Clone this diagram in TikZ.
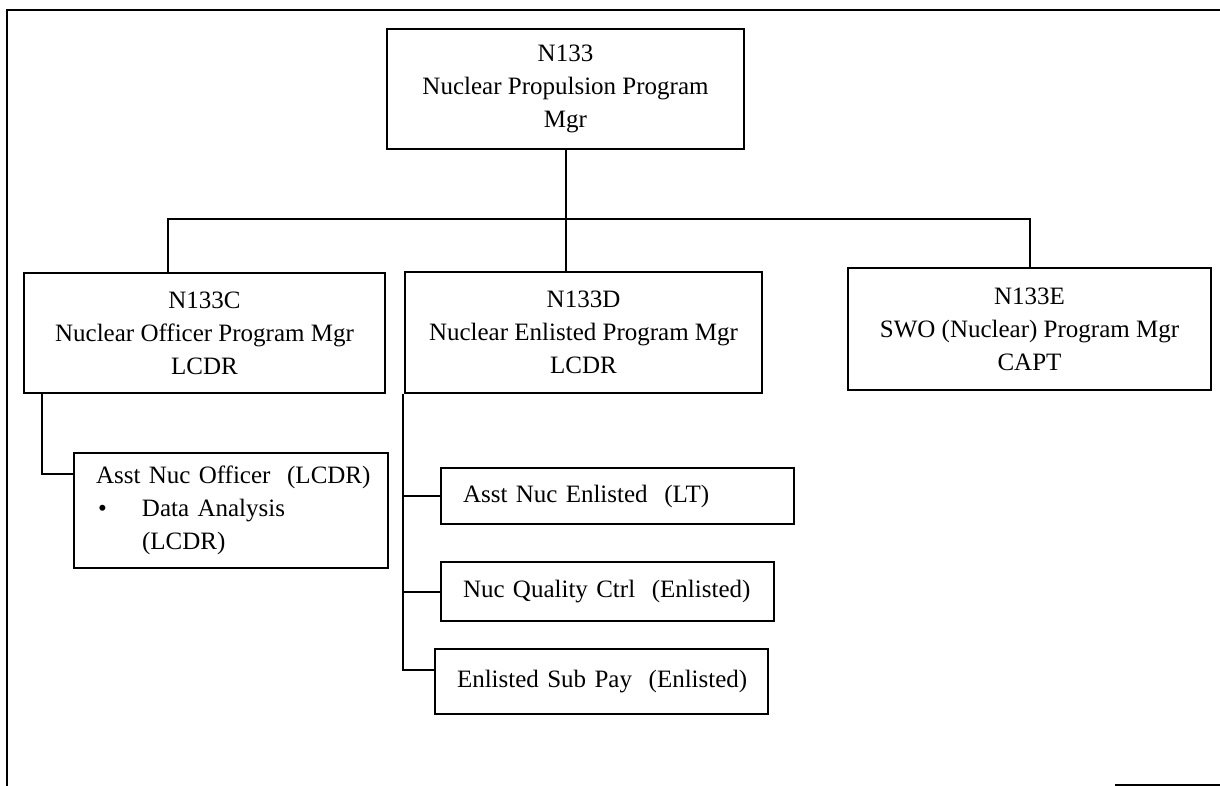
\documentclass[tikz,border=0pt]{standalone}
\usepackage{fontspec}
\setmainfont{Liberation Serif}
\usepackage{tikz}

\begin{document}
\begin{tikzpicture}[x=0.5pt,y=-0.5pt,
    every node/.style={font=\fontsize{12.5}{16.5}\selectfont},
    orgbox/.style={draw, line width=1pt, inner sep=0pt, align=center},
    subbox/.style={draw, line width=1pt, inner sep=0pt, align=left,
      execute at begin node={\leftskip=11pt}},
    link/.style={line width=1pt}]
  \useasboundingbox (0,0) rectangle (1220,786);
  \draw[line width=1pt] (1220,10) -- (7,10) -- (7,786);
  \draw[line width=1pt] (1115,785) -- (1220,785);

  \node[orgbox, minimum width=178.5pt, minimum height=60pt] (n133) at (565.5,89) {N133\\Nuclear Propulsion Program\\Mgr};
  \node[orgbox, minimum width=180.5pt, minimum height=60pt] (n133c) at (204.5,333) {N133C\\Nuclear Officer Program Mgr\\LCDR};
  \node[orgbox, minimum width=178.5pt, minimum height=60.5pt] (n133d) at (583.5,332.5) {N133D\\Nuclear Enlisted Program Mgr\\LCDR};
  \node[orgbox, minimum width=181.5pt, minimum height=61pt] (n133e) at (1029.5,329) {N133E\\SWO (Nuclear) Program Mgr\\CAPT};

  \node[subbox, text width=157pt, minimum height=57.5pt] (asstoff) at (231,510.5) {Asst Nuc Officer\ \ (LCDR)\\\makebox[23pt][l]{\hspace{1pt}\textbullet}Data Analysis\\\hspace*{23pt}(LCDR)};
  \node[subbox, text width=176.5pt, minimum height=28pt] (asstenl) at (617.5,496) {Asst Nuc Enlisted\ \ (LT)};
  \node[subbox, text width=166.5pt, minimum height=29.5pt] (qualctrl) at (607.5,591.5) {Nuc Quality Ctrl\ \ (Enlisted)};
  \node[subbox, text width=166.5pt, minimum height=32.5pt] (subpay) at (601.5,681.5) {Enlisted Sub Pay\ \ (Enlisted)};

  \coordinate (busw) at (168,219);
  \coordinate (ctap) at (42,474);
  \coordinate (dtap) at (403,670);

  \draw[link] (n133.south) -- (n133.south |- n133d.north);
  \draw[link] (busw |- n133c.north) -- (busw) -- (n133e.north |- busw) -- (n133e.north);
  \draw[link] (ctap |- n133c.south) -- (ctap) -- (ctap -| asstoff.west);
  \draw[link] (dtap |- n133d.south) -- (dtap) -- (dtap -| subpay.west);
  \draw[link] (dtap |- asstenl.west) -- (asstenl.west);
  \draw[link] (dtap |- qualctrl.west) -- (qualctrl.west);
\end{tikzpicture}
\end{document}
